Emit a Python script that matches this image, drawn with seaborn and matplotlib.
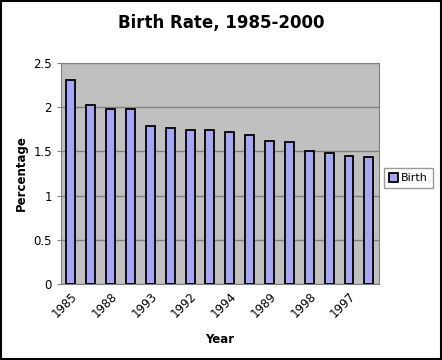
import matplotlib
matplotlib.use("Agg")
import matplotlib.pyplot as plt
import numpy as np
import pandas as pd
import seaborn as sns

# Data (bars sorted by value, years as categories)
years = ["1985", "1986", "1988", "1987", "1993", "1990", "1992", "1991",
         "1994", "1995", "1989", "1996", "1998", "1999", "1997", "2000"]
birth = [2.31, 2.02, 1.98, 1.98, 1.79, 1.77, 1.74, 1.74,
         1.72, 1.69, 1.62, 1.61, 1.50, 1.48, 1.45, 1.44]
series_name = "Birth"

df = pd.DataFrame({"Year": years, "Percentage": birth, "series": series_name})

sns.set_style("white")
plt.rcParams["font.family"] = ["DejaVu Sans"]
plt.rcParams["text.color"] = "black"
plt.rcParams["axes.labelcolor"] = "black"
plt.rcParams["xtick.labelcolor"] = "black"
plt.rcParams["ytick.labelcolor"] = "black"

fig = plt.figure(figsize=(4.42, 3.6), dpi=100)
ax = fig.add_axes([0.138, 0.211, 0.719, 0.614])

sns.barplot(data=df, x="Year", y="Percentage", hue="series", order=years,
            palette=["#9999ff"], width=0.45, dodge=False,
            edgecolor="black", linewidth=1.3, ax=ax, legend=True, zorder=3)

ax.set_facecolor("#c0c0c0")
ax.set_ylim(0, 2.5)
ax.set_xlim(-0.5, len(years) - 0.5)
ax.set_yticks(np.arange(0, 2.51, 0.5))
ax.set_yticklabels(["0", "0.5", "1", "1.5", "2", "2.5"], fontsize=8.5)
ax.yaxis.grid(True, color="#808080", linewidth=1.0, zorder=0)
ax.set_axisbelow(True)

# labels on every other category, tick marks between categories
ax.set_xticks(range(0, len(years), 2))
ax.set_xticklabels(years[::2], rotation=45, ha="right", rotation_mode="anchor",
                   fontsize=8.5)
ax.tick_params(axis="x", which="major", length=0, pad=4)
ax.set_xticks(np.arange(-0.5, len(years), 1), minor=True)
ax.tick_params(axis="x", which="minor", length=3, color="#808080", direction="out")
ax.tick_params(axis="y", length=3, color="#808080", direction="out", left=True)

for side in ["top", "right", "left", "bottom"]:
    ax.spines[side].set_color("#808080")

ax.set_xlabel("Year", fontsize=8.5, fontweight="bold", labelpad=9)
ax.set_ylabel("Percentage", fontsize=8.5, fontweight="bold", labelpad=4)
fig.suptitle("Birth Rate, 1985-2000", fontsize=12, fontweight="bold", x=0.5, y=0.96)

ax.legend(loc="center left", bbox_to_anchor=(0.869, 0.505), bbox_transform=fig.transFigure,
          fontsize=8, frameon=True, fancybox=False, edgecolor="#808080",
          handlelength=0.8, handleheight=0.8, handletextpad=0.25, borderpad=0.45,
          borderaxespad=0)

fig.patches.append(plt.Rectangle((0.002, 0.002), 0.996, 0.996, transform=fig.transFigure,
                                 fill=False, edgecolor="black", linewidth=1.5))

fig.savefig("out.png", dpi=100)
